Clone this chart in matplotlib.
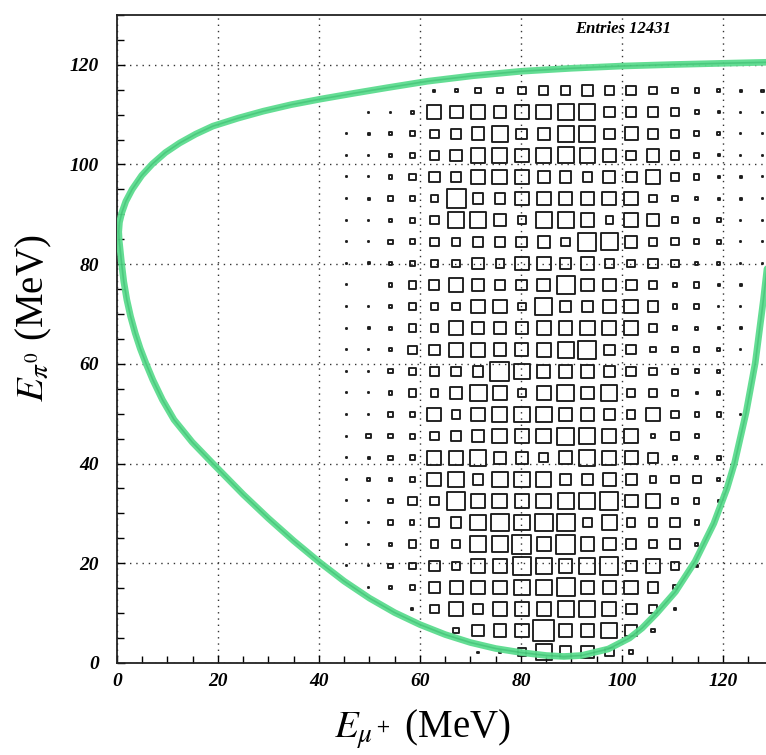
import numpy as np
import matplotlib.pyplot as plt
from matplotlib.patches import Rectangle
from matplotlib.collections import PatchCollection
from matplotlib.ticker import MultipleLocator

plt.rcParams['mathtext.fontset'] = 'stix'
plt.rcParams['font.family'] = ['Liberation Serif', 'DejaVu Serif']

# 30 x 30 cells over 0-130 MeV in both energies
edges = np.linspace(0, 130, 31)
first_mu_bin = 10   # E_mu+ column of the first entry in each row
top_pi_bin = 26     # E_pi0 row of the first line below

# cell contents, E_pi0 rows from bin 26 (top) down to bin 0
counts = [
    [0, 0, 0, 0, 2, 3, 5, 5, 7, 8, 9, 11, 8, 9, 7, 5, 4, 3, 2, 2],
    [0, 1, 1, 3, 13, 12, 13, 12, 13, 14, 15, 15, 10, 9, 9, 7, 4, 2, 1, 1],
    [1, 2, 3, 5, 8, 10, 12, 15, 10, 11, 15, 15, 10, 12, 10, 8, 5, 3, 1, 1],
    [1, 1, 3, 5, 8, 11, 14, 14, 13, 14, 15, 14, 12, 9, 12, 8, 5, 2, 1, 1],
    [1, 1, 3, 6, 10, 10, 14, 14, 13, 11, 11, 9, 11, 10, 13, 7, 5, 2, 2, 1],
    [1, 2, 4, 5, 7, 18, 10, 10, 13, 13, 13, 13, 13, 13, 7, 5, 3, 2, 2, 1],
    [1, 1, 3, 5, 8, 15, 15, 12, 8, 15, 15, 13, 7, 13, 11, 6, 5, 4, 1, 1],
    [1, 1, 4, 5, 8, 8, 10, 10, 10, 11, 8, 17, 16, 11, 8, 7, 5, 4, 1, 1],
    [1, 2, 3, 5, 7, 7, 11, 8, 13, 13, 10, 13, 8, 7, 9, 7, 3, 3, 1, 1],
    [1, 0, 3, 7, 9, 13, 12, 10, 10, 12, 17, 12, 12, 10, 7, 4, 5, 2, 2, 0],
    [1, 1, 3, 6, 7, 7, 13, 13, 7, 16, 11, 11, 12, 13, 10, 4, 5, 1, 1, 0],
    [1, 2, 3, 7, 7, 13, 12, 12, 11, 13, 13, 14, 13, 13, 7, 4, 3, 2, 2, 0],
    [1, 1, 3, 8, 10, 13, 13, 12, 12, 13, 15, 17, 10, 9, 5, 5, 5, 3, 1, 0],
    [1, 1, 4, 7, 8, 9, 10, 18, 15, 12, 12, 12, 10, 9, 7, 5, 4, 3, 0, 0],
    [1, 1, 3, 7, 7, 11, 16, 13, 8, 13, 16, 12, 15, 8, 8, 6, 2, 3, 0, 0],
    [1, 1, 4, 5, 13, 8, 13, 14, 15, 15, 13, 12, 10, 8, 13, 7, 4, 4, 1, 0],
    [1, 4, 4, 5, 8, 10, 11, 14, 13, 14, 16, 15, 13, 13, 4, 7, 4, 0, 0, 0],
    [1, 2, 4, 5, 13, 13, 15, 11, 11, 9, 12, 15, 13, 12, 10, 4, 3, 4, 0, 0],
    [1, 3, 3, 5, 13, 15, 10, 15, 15, 14, 11, 11, 12, 10, 6, 7, 7, 3, 0, 0],
    [1, 1, 4, 8, 8, 17, 14, 14, 13, 14, 15, 15, 17, 12, 13, 5, 5, 2, 0, 0],
    [1, 1, 4, 4, 9, 10, 15, 17, 15, 17, 17, 9, 14, 8, 8, 9, 4, 0, 0, 0],
    [1, 1, 3, 7, 7, 8, 15, 15, 18, 13, 18, 13, 12, 9, 8, 9, 3, 0, 0, 0],
    [1, 1, 4, 6, 10, 8, 13, 13, 17, 15, 13, 15, 17, 10, 13, 8, 2, 0, 0, 0],
    [0, 1, 3, 5, 10, 12, 13, 13, 15, 15, 17, 13, 12, 13, 10, 4, 0, 0, 0, 0],
    [0, 0, 0, 2, 8, 13, 10, 13, 13, 13, 15, 15, 13, 10, 8, 2, 0, 0, 0, 0],
    [0, 0, 0, 0, 0, 5, 11, 12, 13, 20, 12, 13, 15, 11, 3, 0, 0, 0, 0, 0],
    [0, 0, 0, 0, 0, 0, 1, 2, 7, 15, 11, 12, 8, 4, 0, 0, 0, 0, 0, 0],
]

# kinematic boundary of the Dalitz plot (E_mu+, E_pi0), traced anticlockwise
bound_mu = [130.2, 128.5, 120.0, 110.0, 100.0, 90.0, 80.0, 70.5, 61.5, 53.5,
            47.0, 40.2, 34.5, 29.0, 24.0, 19.0, 15.6, 12.4, 9.6, 7.0, 4.9,
            3.0, 1.75, 0.95, 0.5, 0.35, 0.45, 0.9, 1.35, 1.95, 2.7, 3.6, 4.6,
            5.7, 7.1, 9.0, 11.3, 14.9, 18.9, 25.0, 30.0, 35.0, 40.0,
            45.0, 50.0, 55.0, 60.0, 65.0, 70.0, 75.0, 80.0, 85.0, 88.5, 92.0,
            97.3, 101.5, 104.0, 106.9, 110.6, 114.5, 118.2, 120.8, 122.3,
            124.6, 126.4, 128.0, 129.4, 130.5, 131.0, 130.8, 130.2]
bound_pi = [120.6, 120.5, 120.3, 120.05, 119.75, 119.3, 118.7, 117.8, 116.7,
            115.4, 114.3, 113.1, 112.0, 110.7, 109.3, 107.7, 106.1, 104.3,
            102.4, 100.1, 97.8, 95.0, 92.6, 90.3, 88.4, 86.5, 84.7, 80.3, 76.5,
            72.9, 69.5, 66.2, 63.1, 60.2, 56.8, 52.8, 48.8, 44.3, 40.1,
            33.8, 29.0, 24.5, 20.3, 16.4, 13.0, 10.1, 7.7, 5.7, 4.1, 2.9, 2.1,
            1.5, 1.3, 1.5, 2.8, 5.0, 7.0, 10.0, 14.3, 20.4, 28.0, 35.0, 40.1,
            50.3, 60.2, 72.7, 85.0, 98.0, 108.0, 116.0, 120.6]

fig = plt.figure(figsize=(7.66, 7.55), dpi=100)
ax = fig.add_axes([0.1527, 0.1219, 0.857, 0.8583])

# boxes, side proportional to the cell content
w = edges[1] - edges[0]
c = np.array(counts, dtype=float)
scale = 0.97 * w / c.max()
boxes = []
for i, row in enumerate(c):
    ypi = edges[top_pi_bin - i] + w / 2
    for j, n in enumerate(row):
        if n <= 0:
            continue
        xmu = edges[first_mu_bin + j] + w / 2
        s = n * scale
        boxes.append(Rectangle((xmu - s / 2, ypi - s / 2), s, s))
ax.add_collection(PatchCollection(boxes, facecolor='none', edgecolor='#1c1c1c',
                                  linewidth=1.35, joinstyle='round', zorder=3))

ax.plot(bound_mu, bound_pi, color='#5cdc8e', lw=4.8, alpha=0.95, zorder=4,
        solid_capstyle='round', solid_joinstyle='round')
ax.plot(bound_mu, bound_pi, color='#1fa455', lw=1.2, alpha=0.35, zorder=5,
        solid_joinstyle='round')

ax.set_xlim(0, 130)
ax.set_ylim(0, 130)
ax.xaxis.set_major_locator(MultipleLocator(20))
ax.yaxis.set_major_locator(MultipleLocator(20))
ax.xaxis.set_minor_locator(MultipleLocator(5))
ax.yaxis.set_minor_locator(MultipleLocator(5))
ax.tick_params(which='both', direction='in', top=False, right=False, width=1.0)
ax.tick_params(which='major', length=6)
ax.tick_params(which='minor', length=5)
ax.tick_params(axis='y', pad=13)
ax.tick_params(axis='x', pad=7)
for lab in ax.get_xticklabels() + ax.get_yticklabels():
    lab.set_fontsize(14)
    lab.set_fontweight('bold')
    lab.set_fontstyle('italic')
ax.grid(True, which='major', linestyle=(0, (1, 3.5)), color='#333333', lw=1.0)
for sp in ax.spines.values():
    sp.set_linewidth(1.3)
    sp.set_color('#222222')

ax.text(100.2, 127.1, 'Entries 12431', fontsize=12, fontweight='bold',
        fontstyle='italic', ha='center', va='center')

ax.text(0.466, -0.1157, r'$E_{\mu^+}$ (MeV)', transform=ax.transAxes,
        fontsize=28, ha='center', va='baseline')
ax.text(-0.1127, 0.532, r'$E_{\pi^0}$ (MeV)', transform=ax.transAxes,
        fontsize=28, ha='center', va='baseline', rotation=90,
        rotation_mode='anchor')

fig.savefig('out.png', dpi=100)
